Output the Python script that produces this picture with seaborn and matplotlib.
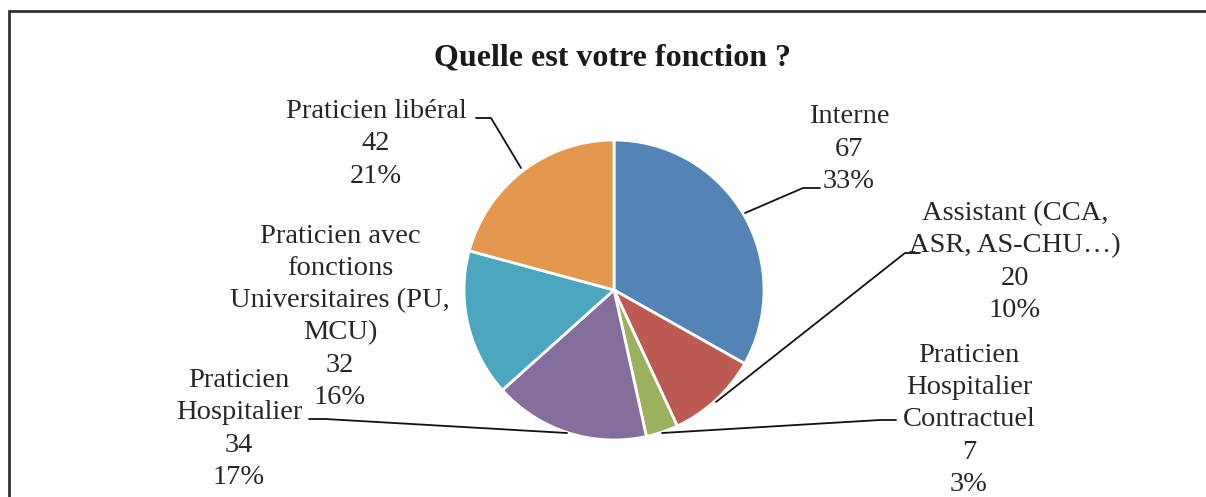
import matplotlib
matplotlib.use("Agg")
import matplotlib.pyplot as plt
import seaborn as sns

# data
categories = ["Interne", "Assistant (CCA,\nASR, AS-CHU\u2026)", "Praticien\nHospitalier\nContractuel",
              "Praticien\nHospitalier", "Praticien avec\nfonctions\nUniversitaires (PU,\nMCU)",
              "Praticien lib\u00e9ral"]
counts = [67, 20, 7, 34, 32, 42]
percents = ["33%", "10%", "3%", "17%", "16%", "21%"]
colors = ["#5284B5", "#BD5B53", "#9BB15D", "#856E9E", "#4AA7BD", "#E3984D"]

sns.set_theme(style="white")
plt.rcParams['font.family'] = ['Liberation Serif', 'DejaVu Serif']

W, H = 1206, 497
fig = plt.figure(figsize=(W / 100, H / 100), dpi=100)
ax = fig.add_axes([0, 0, 1, 1])


def py(y):
    # pixel row (from top) -> data y
    return H - y


# pie
cx, cy, r = 614, 290, 150
wedges, _ = ax.pie(counts, colors=colors, startangle=90, counterclock=False,
                   center=(cx, py(cy)), radius=r, frame=True,
                   wedgeprops=dict(edgecolor="white", linewidth=2))
ax.set_xlim(0, W)
ax.set_ylim(0, H)
ax.set_aspect("equal")
ax.axis("off")

# title
ax.text(612, py(58), "Quelle est votre fonction ?", ha="center", va="center",
        fontsize=23, fontweight="bold", color="#1a1a1a")

# labels: center x, center y of block; one text per line so boxes stay tight
label_pos = [(849, 146), (1015, 259), (969, 417), (239, 426), (340, 314), (376, 141)]
pitch = 32.2
for cat, n, p, (lx, ly) in zip(categories, counts, percents, label_pos):
    lines = cat.split("\n") + [str(n), p]
    k = len(lines)
    for i, line in enumerate(lines):
        yy = ly + (i - (k - 1) / 2) * pitch
        ax.text(lx, py(yy), line, ha="center", va="center_baseline",
                fontsize=20.5, color="#262626")

# leader lines
leaders = [
    [(820, 188), (803, 188), (745, 213)],
    [(920, 253), (905, 253), (716, 402)],
    [(896, 420), (880, 420), (662, 433)],
    [(309, 419), (325, 419), (567, 433)],
    [(476, 118), (491, 118), (521, 168)],
]
for pts in leaders:
    ax.plot([p[0] for p in pts], [py(p[1]) for p in pts], color="#111111", lw=1.3)

# frame of the original figure (left and top edges visible)
ax.plot([9, 9], [py(11), py(497)], color="#333333", lw=2)
ax.plot([9, W], [py(11), py(11)], color="#333333", lw=2)

fig.savefig("out.png", dpi=100, facecolor="white")
